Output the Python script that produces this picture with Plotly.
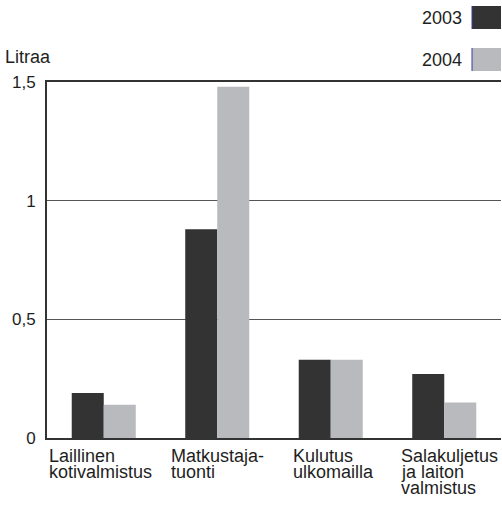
import plotly.graph_objects as go

categories = [["Laillinen", "kotivalmistus"], ["Matkustaja-", "tuonti"], ["Kulutus", "ulkomailla"], ["Salakuljetus", "ja laiton", "valmistus"]]
series_names = ["2003", "2004"]
values_2003 = [0.19, 0.88, 0.33, 0.27]
values_2004 = [0.14, 1.48, 0.33, 0.15]
tick_vals = [0, 0.5, 1, 1.5]
tick_text = ["0", "0,5", "1", "1,5"]
colors = ["#333333", "#b9babe"]
label_shift = [-56, -47, -39, -44]

W, H = 502, 505
ML, MR, MT, MB = 47, 1, 82, 67
pw = W - ML - MR
ph = H - MT - MB

def px(x):
    return (x - ML) / pw

def py(y):
    return 1 - (y - MT) / ph

font = "Liberation Sans, Arial, sans-serif"
tc = "#1e1e1e"
fig = go.Figure()
x_idx = list(range(len(categories)))
for name, vals, c in zip(series_names, [values_2003, values_2004], colors):
    fig.add_trace(go.Bar(x=x_idx, y=vals, name=name, marker=dict(color=c, line=dict(width=0))))

annotations = []
for i, lines in enumerate(categories):
    for k, line in enumerate(lines):
        annotations.append(dict(x=i, y=py(456 + 16 * k), xref="x", yref="paper", text=line, showarrow=False,
                                xanchor="left", yanchor="middle", align="left", xshift=label_shift[i],
                                borderpad=0,
                                font=dict(size=18, color=tc, family=font)))
annotations.append(dict(x=px(3), y=py(57), xref="paper", yref="paper", text="Litraa", showarrow=False,
                        xanchor="left", yanchor="middle", font=dict(size=18, color=tc, family=font)))
shapes = []
for j, (name, c) in enumerate(zip(series_names, colors)):
    yc = 17.5 + j * 42
    annotations.append(dict(x=px(464), y=py(yc), xref="paper", yref="paper", text=name, showarrow=False,
                            xanchor="right", yanchor="middle", font=dict(size=18, color=tc, family=font)))
    shapes.append(dict(type="rect", xref="paper", yref="paper", x0=px(472), x1=px(501),
                       y0=py(yc - 11.5), y1=py(yc + 11.5), fillcolor=c, line=dict(width=0)))
    shapes.append(dict(type="line", xref="paper", yref="paper", x0=px(472), x1=px(472),
                       y0=py(yc - 11.5), y1=py(yc + 11.5), line=dict(color="#3a3aa0", width=1)))

fig.update_layout(
    width=W, height=H, margin=dict(l=ML, r=MR, t=MT, b=MB),
    paper_bgcolor="white", plot_bgcolor="white",
    barmode="group", bargap=0.436, bargroupgap=0,
    showlegend=False,
    annotations=annotations, shapes=shapes,
    font=dict(family=font, size=18, color=tc),
)
fig.update_xaxes(range=[-0.5, 3.5], showticklabels=False, showgrid=False, ticks="",
                 showline=True, linecolor="#333", linewidth=2, mirror=True, zeroline=False)
fig.update_yaxes(range=[0, 1.5], tickvals=tick_vals, ticktext=tick_text, showgrid=True,
                 gridcolor="#555", gridwidth=1, showline=True, linecolor="#333", linewidth=2,
                 ticks="", ticklabelstandoff=6, zeroline=False, tickfont=dict(size=17, color=tc))
fig.write_html("out.html", config={"displayModeBar": False},
               post_script="document.body.style.margin='0';")
